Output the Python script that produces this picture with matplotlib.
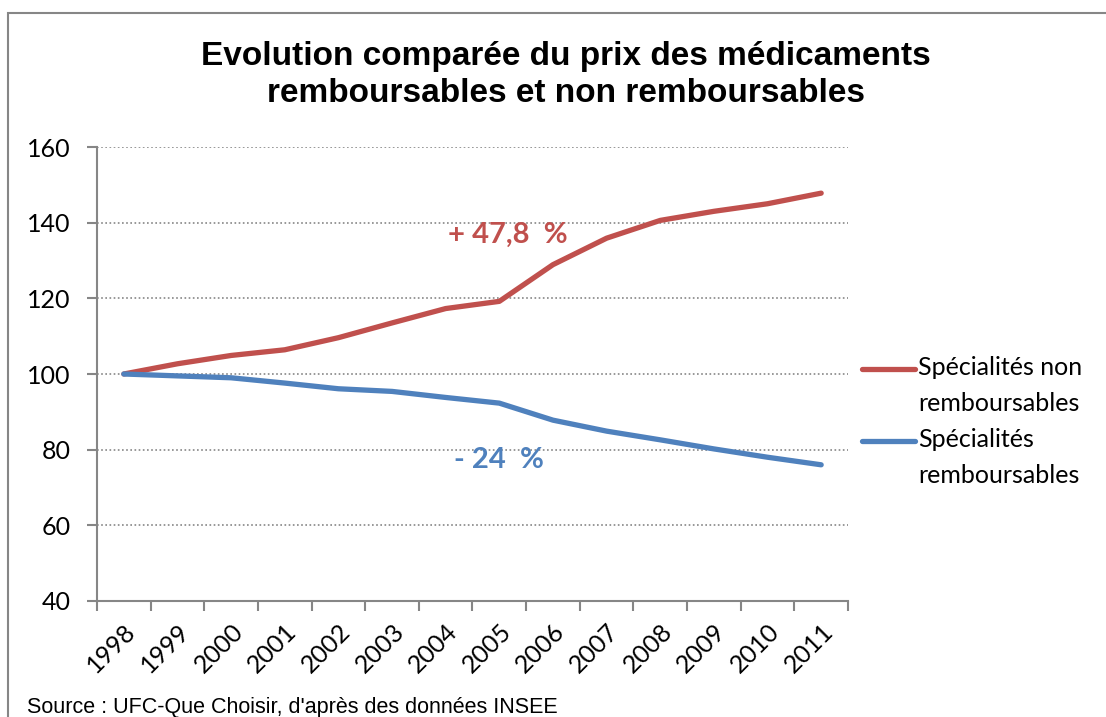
import numpy as np
import matplotlib.pyplot as plt
from matplotlib.lines import Line2D
from matplotlib.patches import Rectangle

# Donnees (indice base 100 en 1998)
annees = ['1998', '1999', '2000', '2001', '2002', '2003', '2004',
          '2005', '2006', '2007', '2008', '2009', '2010', '2011']
non_remb = [100, 102.7, 104.9, 106.4, 109.6, 113.5, 117.3,
            119.2, 128.9, 135.9, 140.6, 143.0, 145.0, 147.8]
remb = [100, 99.5, 99.0, 97.6, 96.1, 95.4, 93.8,
        92.3, 87.8, 84.9, 82.6, 80.2, 78.0, 76.0]

ROUGE = '#C0504D'
BLEU = '#4F81BD'
GRIS = '#868686'
W, H = 1106, 717

fig = plt.figure(figsize=(W / 100, H / 100), dpi=100)
ax = fig.add_axes([97 / W, 1 - 601 / H, (848 - 97) / W, (601 - 147) / H])

x = np.arange(len(annees))
ax.plot(x, non_remb, color=ROUGE, lw=3.8, solid_capstyle='round', solid_joinstyle='round')
ax.plot(x, remb, color=BLEU, lw=3.8, solid_capstyle='round', solid_joinstyle='round')

ax.set_xlim(-0.5, len(annees) - 0.5)
ax.set_ylim(40, 160)
ax.set_yticks(range(40, 161, 20))
ax.set_xticks(x)
ax.set_xticks(np.arange(-0.5, len(annees), 1), minor=True)
ax.set_xticklabels(annees, rotation=45, ha='right', va='top', rotation_mode='anchor',
                   fontsize=18, family='Lato')
for lab in ax.get_yticklabels():
    lab.set_fontsize(18)
    lab.set_family('Lato')

ax.tick_params(axis='x', which='major', length=0, pad=13)
ax.tick_params(axis='x', which='minor', length=7, width=1.5, color=GRIS, direction='out')
ax.tick_params(axis='y', length=7, width=1.5, color=GRIS, direction='out', pad=12)

for s in ['top', 'right']:
    ax.spines[s].set_visible(False)
for s in ['left', 'bottom']:
    ax.spines[s].set_color(GRIS)
    ax.spines[s].set_linewidth(1.5)

for v in range(60, 161, 20):
    ax.axhline(v, color=GRIS, lw=1.2, ls=(0, (1, 1.5)), zorder=0)

ax.text(7.15, 136.7, '+ 47,8  %', color=ROUGE, fontsize=21, fontweight='bold',
        family='Lato', ha='center', va='center')
ax.text(7.0, 77.2, '- 24  %', color=BLEU, fontsize=21, fontweight='bold',
        family='Lato', ha='center', va='center')

fig.text(566 / W, 1 - 75 / H,
         'Evolution comparée du prix des médicaments\nremboursables et non remboursables',
         ha='center', va='center', fontsize=24, fontweight='bold',
         family='Liberation Sans', linespacing=1.25)

# legende
legende = [('Spécialités non\nremboursables', ROUGE, 369),
           ('Spécialités\nremboursables', BLEU, 441)]
for txt, c, yy in legende:
    fig.add_artist(Line2D([862 / W, 915 / W], [1 - yy / H, 1 - yy / H], color=c,
                          lw=3.8, solid_capstyle='round'))
    fig.text(918 / W, 1 - (yy - 13) / H, txt, ha='left', va='top', fontsize=18,
             family='Lato', linespacing=1.7)

fig.text(27 / W, 1 - 707 / H, "Source : UFC-Que Choisir, d'après des données INSEE",
         ha='left', va='center', fontsize=15.5, family='Liberation Sans')

fig.add_artist(Rectangle((8 / W, -0.1), 1.2, 1 - 13 / H + 0.1, transform=fig.transFigure,
                         fill=False, edgecolor=GRIS, lw=1.5))

fig.savefig('out.png', dpi=100)
